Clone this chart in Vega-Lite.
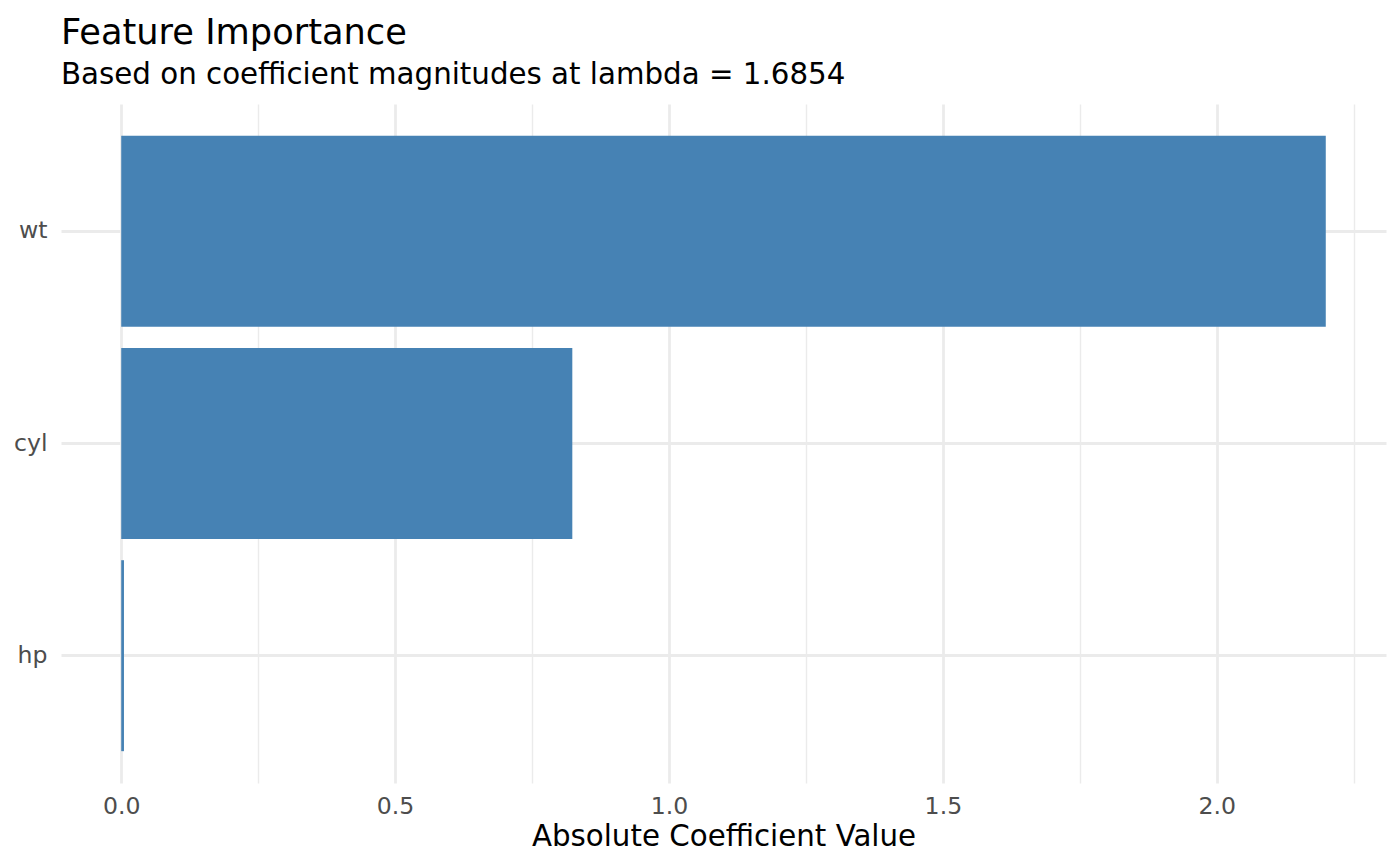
{
  "$schema": "https://vega.github.io/schema/vega-lite/v6.json",
  "autosize": "none",
  "width": 1325,
  "height": 679,
  "padding": {"left": 61, "top": 104, "right": 14, "bottom": 83},
  "background": "white",
  "title": {
    "text": "Feature Importance",
    "subtitle": "Based on coefficient magnitudes at lambda = 1.6854",
    "anchor": "start",
    "frame": "group",
    "font": "DejaVu Sans",
    "fontSize": 35.2,
    "fontWeight": "normal",
    "color": "black",
    "subtitleFont": "DejaVu Sans",
    "subtitleFontSize": 29.3,
    "subtitleColor": "black",
    "subtitlePadding": 10,
    "offset": 14
  },
  "config": {
    "view": {"stroke": null},
    "axis": {
      "domain": false,
      "ticks": false,
      "gridColor": "#EBEBEB",
      "labelFont": "DejaVu Sans",
      "labelColor": "#4D4D4D",
      "labelFontSize": 23.6,
      "titleFont": "DejaVu Sans",
      "titleFontSize": 29.3,
      "titleFontWeight": "normal",
      "titleColor": "black"
    }
  },
  "data": {
    "values": [
      {"feature": "wt", "importance": 2.199},
      {"feature": "cyl", "importance": 0.8235},
      {"feature": "hp", "importance": 0.005}
    ]
  },
  "mark": {"type": "bar", "color": "#4682B4"},
  "encoding": {
    "y": {
      "field": "feature",
      "type": "nominal",
      "sort": {"field": "importance", "order": "descending"},
      "scale": {"paddingInner": 0.1, "paddingOuter": 0.15},
      "axis": {
        "title": null,
        "grid": true,
        "bandPosition": 0.5,
        "gridWidth": 2.8,
        "labelPadding": 14
      }
    },
    "x": {
      "field": "importance",
      "type": "quantitative",
      "scale": {"domain": [-0.10995, 2.30895], "nice": false, "zero": false},
      "axis": {
        "title": "Absolute Coefficient Value",
        "values": [0, 0.25, 0.5, 0.75, 1, 1.25, 1.5, 1.75, 2, 2.25],
        "labelExpr": "(datum.value * 2) % 1 != 0 ? '' : format(datum.value, '.1f')",
        "gridWidth": {"condition": {"test": "(datum.value * 2) % 1 != 0", "value": 1.4}, "value": 2.8},
        "labelPadding": 11.5,
        "titlePadding": 4
      }
    }
  }
}
